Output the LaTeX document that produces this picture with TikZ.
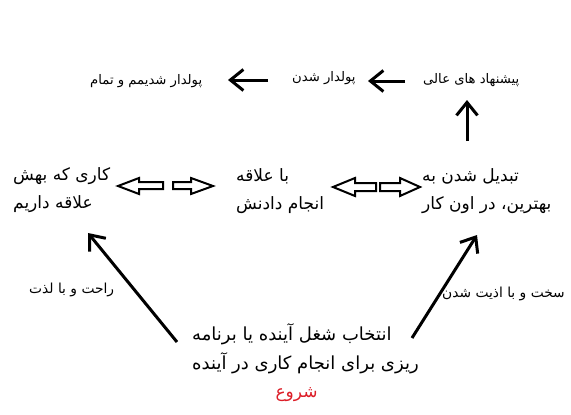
\documentclass[tikz,border=0pt]{standalone}
\usepackage{fontspec}
\usetikzlibrary{arrows.meta}
\TeXXeTstate=1
\newfontfamily\arabicfont[Script=Arabic]{DejaVu Sans}
\definecolor{startred}{RGB}{220,30,40}
\begin{document}
\begin{tikzpicture}[x=1pt,y=-1pt,
  big/.style={inner sep=0pt,anchor=west,align=left,font=\arabicfont\fontsize{17}{28}\selectfont},
  small/.style={inner sep=0pt,anchor=west,font=\arabicfont\fontsize{13.2}{14}\selectfont},
  side/.style={inner sep=0pt,anchor=west,font=\arabicfont\fontsize{13.8}{14}\selectfont},
  barb/.style={line width=3pt,-{Straight Barb[length=13pt,width=21pt,line width=3pt]}},
  hollow/.style={line width=2pt,line join=miter,fill=white}]
\useasboundingbox (0,0) rectangle (571,415);
% top row
\node[small] (offers) at (423,80) {\beginR پیشنهاد های عالی\endR};
\node[small] (rich) at (292,78) {\beginR پولدار شدن\endR};
\node[small] (done) at (90,81) {\beginR پولدار شدیمم و تمام\endR};
\coordinate (a1s) at (405,81); \coordinate (a1e) at (368,81);
\coordinate (a2s) at (268,80); \coordinate (a2e) at (228,80);
\draw[barb] (a1s) -- (a1e);
\draw[barb] (a2s) -- (a2e);
% middle row
\node[big] (love) at (13,190) {\beginR کاری که بهش\endR\\\beginR علاقه داریم\endR};
\node[big] (with) at (236,191) {\beginR با علاقه\endR\\\beginR انجام دادنش\endR};
\node[big] (best) at (422,191) {\beginR تبدیل شدن به\endR\\\beginR بهترین، در اون کار\endR};
\coordinate (ups) at (467,141); \coordinate (upe) at (467,100);
\draw[barb] (ups) -- (upe);
% hollow double arrows
\draw[hollow] (118,186) -- (139,178) -- (139,182) -- (163,182) -- (163,189) -- (139,189) -- (139,194) -- cycle;
\draw[hollow] (213,186) -- (191,178) -- (191,182) -- (173,182) -- (173,189) -- (191,189) -- (191,194) -- cycle;
\draw[hollow] (333,187) -- (355,178) -- (355,183) -- (376,183) -- (376,191) -- (355,191) -- (355,196) -- cycle;
\draw[hollow] (420,187) -- (400,178) -- (400,183) -- (380,183) -- (380,191) -- (400,191) -- (400,196) -- cycle;
% bottom
\node[big,font=\arabicfont\fontsize{18}{29}\selectfont] (choose) at (192,348.5) {\beginR انتخاب شغل آینده یا برنامه\endR\\\beginR ریزی برای انجام کاری در آینده\endR};
\node[inner sep=0pt,text=startred,font=\arabicfont\fontsize{17}{28}\selectfont] (start) at (296.5,395) {\beginR شروع\endR};
\node[side] (easy) at (29,290) {\beginR راحت و با لذت\endR};
\node[side] (hard) at (442,294) {\beginR سخت و با اذیت شدن\endR};
\coordinate (l1) at (177,342); \coordinate (l2) at (88,233);
\coordinate (r1) at (412,338); \coordinate (r2) at (477,235);
\draw[barb] (l1) -- (l2);
\draw[barb] (r1) -- (r2);
\end{tikzpicture}
\end{document}
